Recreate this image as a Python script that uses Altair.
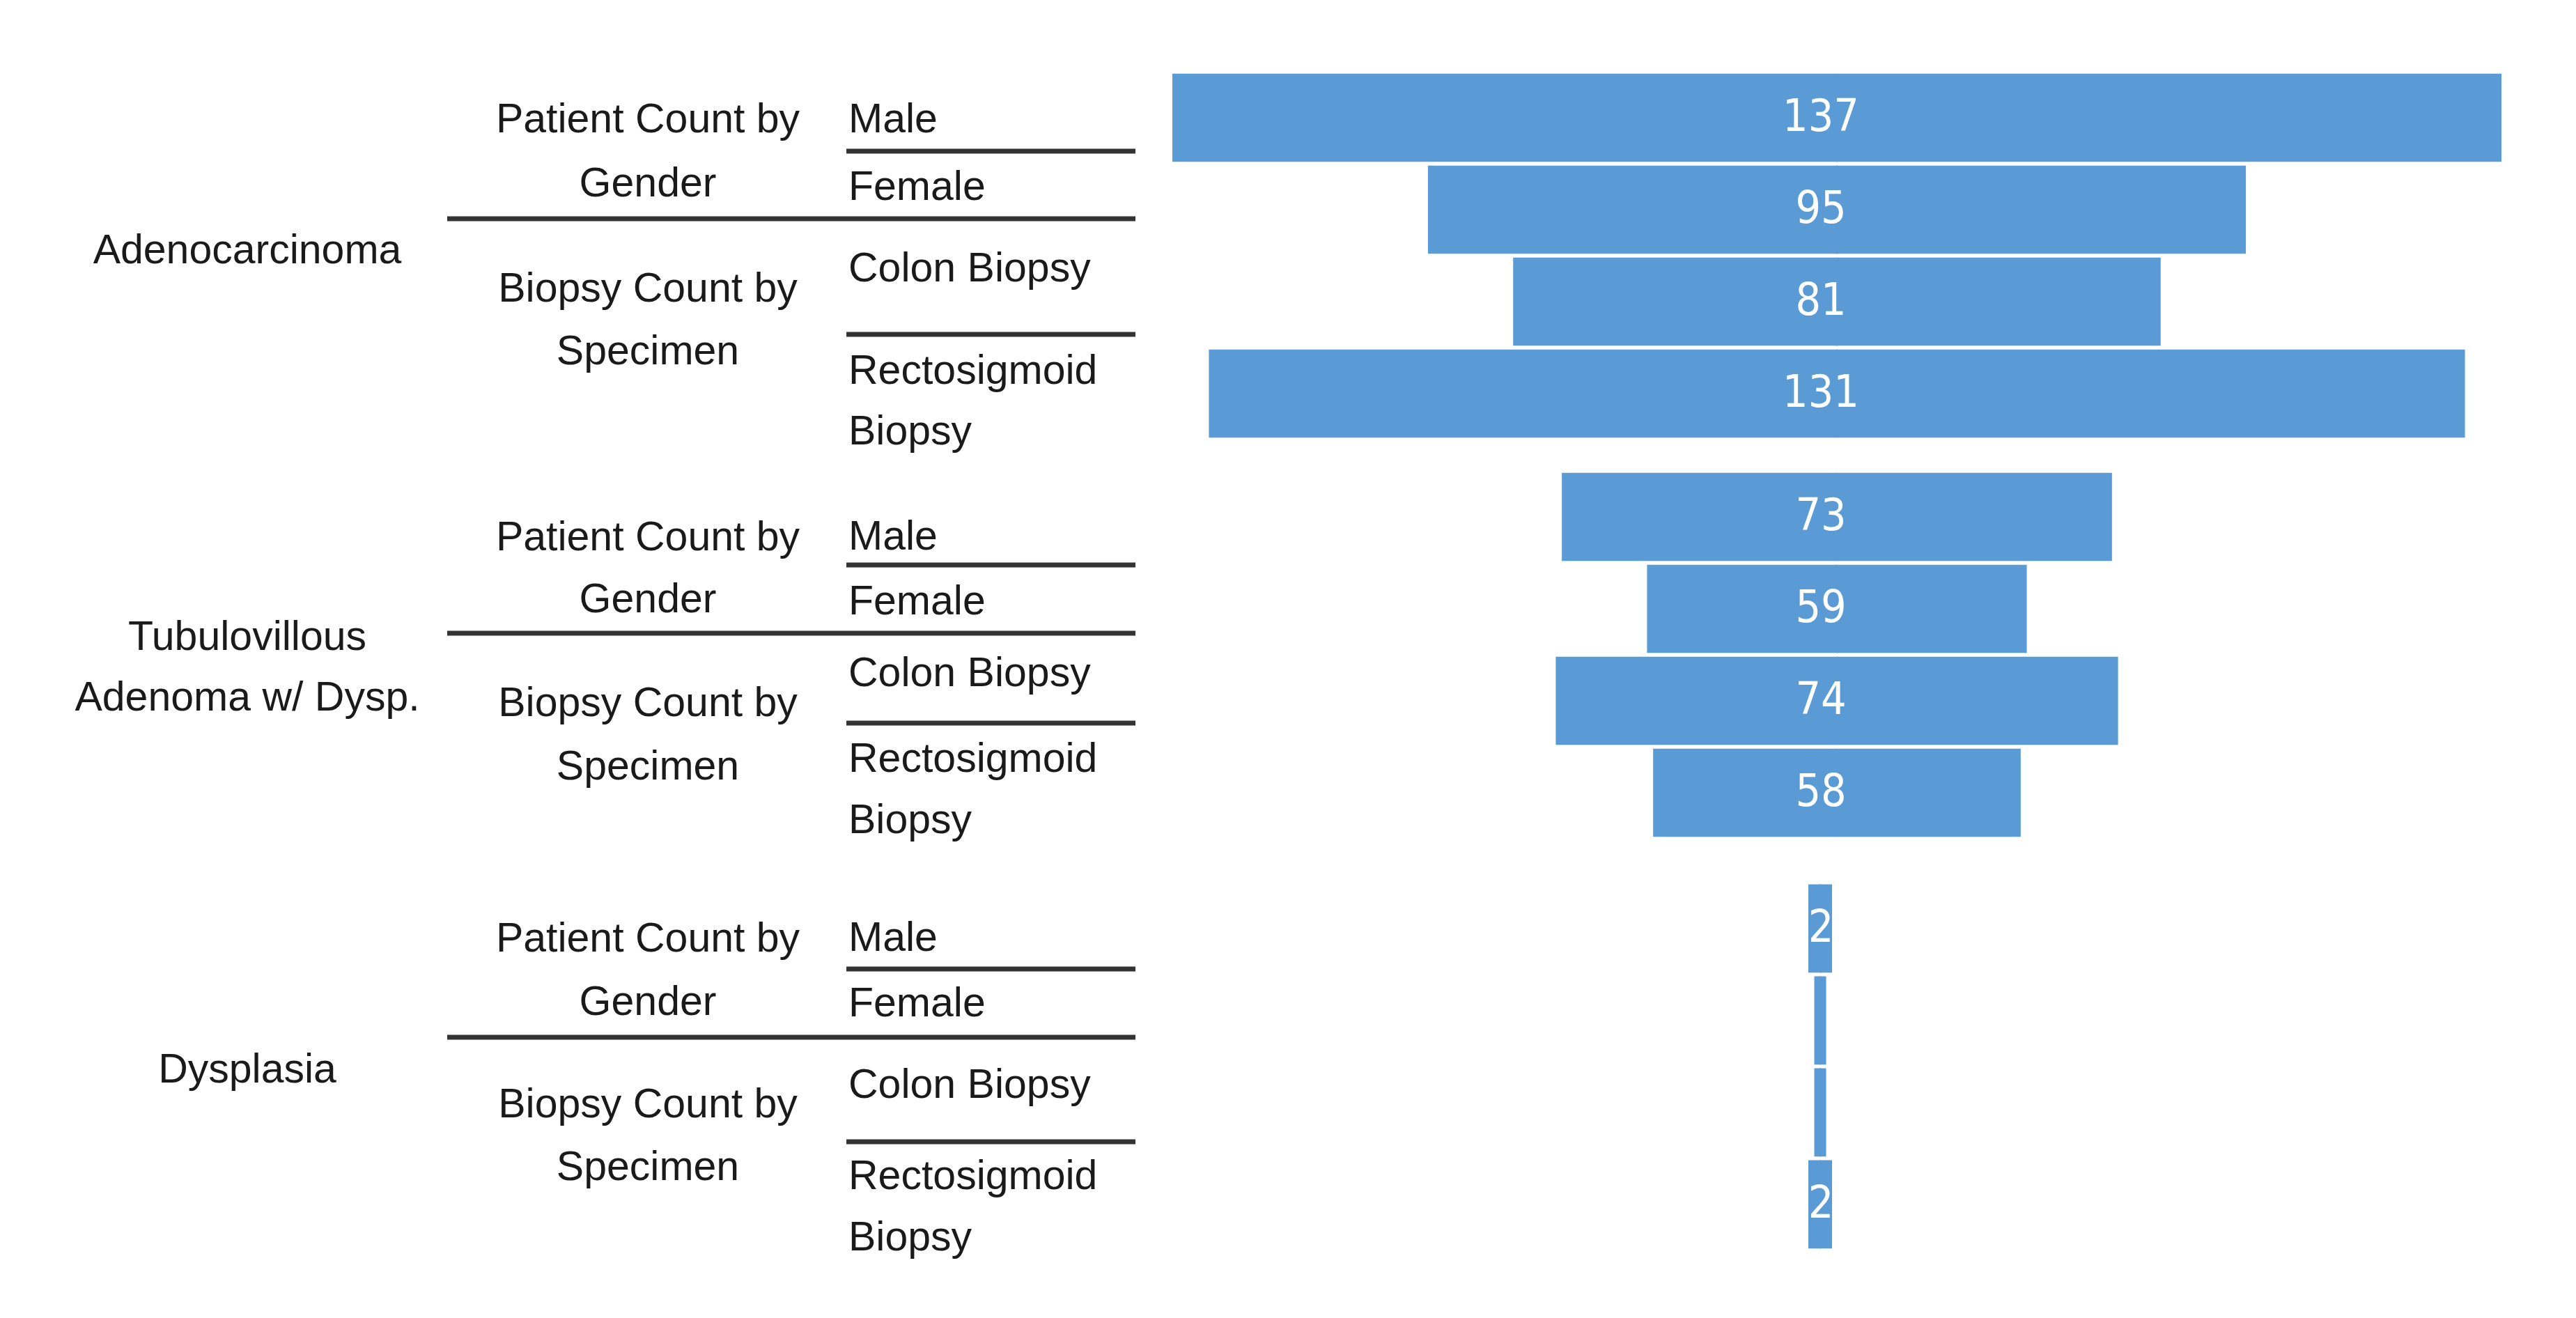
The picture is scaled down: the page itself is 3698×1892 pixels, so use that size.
import altair as alt
import pandas as pd

# ---------------- data ----------------
GROUP_LINES = [["Adenocarcinoma"], ["Tubulovillous", "Adenoma w/ Dysp."], ["Dysplasia"]]
CAT_LINES = [["Patient Count by", "Gender"], ["Biopsy Count by", "Specimen"]]
SUB_LINES = [["Male"], ["Female"], ["Colon Biopsy"], ["Rectosigmoid", "Biopsy"]]
ADENO = [137, 95, 81, 131]
TUBULO = [73, 59, 74, 58]
DYSPLASIA = [2, 1, 1, 2]
VALUES = [ADENO, TUBULO, DYSPLASIA]

# ---------------- layout (row units, styles) ----------------
W, H = 3682, 1876
GROUP_BASE = [0.0, 4.341, 8.818]
SUB_POS = [[0.023, 0.758, 1.644, 2.758, 3.417],
           [0.220, 0.924, 1.705, 2.636, 3.303],
           [0.106, 0.818, 1.705, 2.697, 3.364]]
CAT_POS = [[0.023, 0.720, 1.864, 2.545],
           [0.227, 0.902, 2.030, 2.720],
           [0.114, 0.803, 1.917, 2.598]]
GRP_POS = [[1.447], [1.311, 1.970], [1.538]]
LINE_POS = [[0.364, 1.098, 2.356],
            [0.523, 1.265, 2.242],
            [0.439, 1.182, 2.318]]

BLUE = "#5A9AD5"
INK = "#1a1a1a"
FONT = "Liberation Sans"
NUM_FONT = "Liberation Sans Narrow, DejaVu Sans Condensed, Liberation Sans"

C12 = 2629      # funnel axis (pixels) for first two groups
HALF12 = 954
C3 = 2605       # funnel axis for the Dysplasia group
PX3 = 8.5       # half-width pixels per unit for Dysplasia
LABEL_X = 2606

yscale = alt.Scale(domain=[-1.2197, 12.9924], reverse=True, nice=False, zero=False)

# bars
rows = []
for g, vals in enumerate(VALUES):
    for r, v in enumerate(vals):
        pos = GROUP_BASE[g] + r
        rows.append({"g": g, "r": r, "value": v, "pos": pos,
                     "y0": pos - 0.48, "y1": pos + 0.48})
bars = pd.DataFrame(rows)
b12 = bars[bars.g < 2]
b3 = bars[bars.g == 2]


def half(df, dom, rng, x2px):
    return alt.Chart(df).mark_bar(color=BLUE, cornerRadius=0).encode(
        x=alt.X("value:Q", scale=alt.Scale(domain=dom, range=rng, nice=False, zero=False), axis=None),
        x2=alt.value(x2px),
        y=alt.Y("y0:Q", scale=yscale, axis=None),
        y2="y1:Q",
    )


right12 = half(b12, [27.8, 137], [C12, C12 + HALF12], C12 - 1)
left12 = half(b12, [27.8, 137], [C12, C12 - HALF12], C12 + 1)
right3 = half(b3, [0, 137], [C3, C3 + 137 * PX3], C3 - 1)
left3 = half(b3, [0, 137], [C3, C3 - 137 * PX3], C3 + 1)

labels = alt.Chart(bars).transform_filter("datum.value >= 2").mark_text(
    font=NUM_FONT, fontSize=64, color="white", align="center", baseline="middle"
).encode(
    x=alt.value(LABEL_X),
    y=alt.Y("pos:Q", scale=yscale, axis=None),
    text="value:Q",
)

# table text
grp_rows, cat_rows, sub_rows, short_rows, long_rows = [], [], [], [], []
for g in range(3):
    base = GROUP_BASE[g]
    for i, t in enumerate(GROUP_LINES[g]):
        grp_rows.append({"text": t, "u": base + GRP_POS[g][i]})
    cl = [t for lines in CAT_LINES for t in lines]
    for i, t in enumerate(cl):
        cat_rows.append({"text": t, "u": base + CAT_POS[g][i]})
    sl = [t for lines in SUB_LINES for t in lines]
    for i, t in enumerate(sl):
        sub_rows.append({"text": t, "u": base + SUB_POS[g][i]})
    for i, p in enumerate(LINE_POS[g]):
        (long_rows if i == 1 else short_rows).append({"u": base + p})


def text_layer(rows_, x, align):
    return alt.Chart(pd.DataFrame(rows_)).mark_text(
        font=FONT, fontSize=59, color=INK, align=align, baseline="middle"
    ).encode(
        x=alt.value(x),
        y=alt.Y("u:Q", scale=yscale, axis=None),
        text="text:N",
    )


grp_text = text_layer(grp_rows, 347, "center")
cat_text = text_layer(cat_rows, 922, "center")
sub_text = text_layer(sub_rows, 1210, "left")


def rule_layer(rows_, x0, x1):
    return alt.Chart(pd.DataFrame(rows_)).mark_rule(color="#333333", strokeWidth=7).encode(
        x=alt.value(x0), x2=alt.value(x1),
        y=alt.Y("u:Q", scale=yscale, axis=None),
    )


short_rules = rule_layer(short_rows, 1207, 1622)
long_rules = rule_layer(long_rows, 634, 1622)

chart = alt.layer(
    right12, left12, right3, left3, labels,
    short_rules, long_rules, grp_text, cat_text, sub_text,
).resolve_scale(x="independent").properties(
    width=W, height=H, padding=0,
    autosize=alt.AutoSizeParams(type="none"),
    background="white",
).configure_view(stroke=None)

chart.save("out.html", embed_options={"renderer": "svg", "actions": False})
